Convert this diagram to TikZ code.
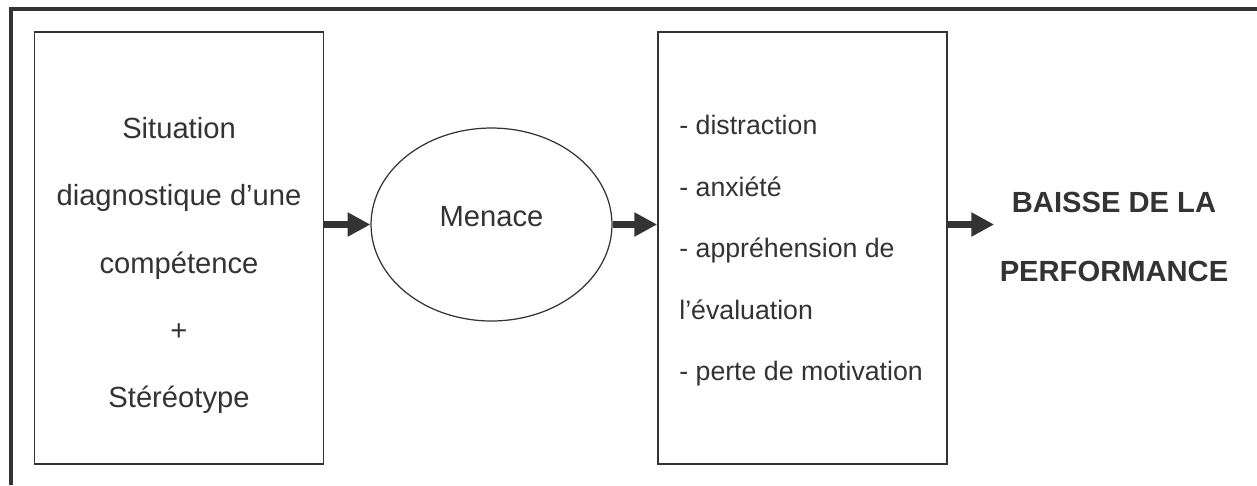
\documentclass[tikz,border=0pt]{standalone}
\usepackage{fontspec}
\setmainfont{Liberation Sans}
\usetikzlibrary{shapes.geometric,arrows.meta}

\begin{document}
\begin{tikzpicture}[x=0.02cm,y=-0.02cm,
    every node/.style={text=tab_gray},
    bloc/.style={draw=tab_gray, line width=1pt, minimum width=5.78cm, minimum height=8.64cm, inner sep=0pt},
    fleche/.style={draw=tab_gray, line width=4pt, -{Triangle[length=13pt,width=13pt]}},
]
    \definecolor{tab_gray}{HTML}{333333}
    %\draw[help lines] (0,0) grid (1257,485);
    \useasboundingbox (0,0) rectangle (1257,485);
    \draw[tab_gray, line width=2pt] (11,485) -- (11,9) -- (1257,9);

    \node[bloc] (situation) at (179,248) {};
    \node[bloc] (effets) at (802.5,248) {};
    \node[draw=tab_gray, line width=0.7pt, ellipse, minimum width=4.82cm, minimum height=3.86cm, inner sep=0pt] (menace) at (491.5,224.5) {};

    \node[align=center, inner sep=0pt, font=\fontsize{16.6}{38.3}\selectfont] (situation_txt) at (179,265.5) {
        Situation\\
        diagnostique d’une\\
        compétence\\
        +\\
        Stéréotype
    };
    \node[anchor=base, font=\fontsize{16.6}{20}\selectfont] (menace_txt) at (491.5,226) {Menace};
    \node[align=left, anchor=west, inner sep=0pt, font=\fontsize{15.2}{35}\selectfont] (effets_txt) at (679,251) {
        - distraction\\
        - anxiété\\
        - appréhension de\\
        l’évaluation\\
        - perte de motivation
    };
    \node[align=center, inner sep=3pt, font=\bfseries\fontsize{16.6}{39.3}\selectfont] (baisse) at (1114,237) {
        BAISSE DE LA\\
        PERFORMANCE
    };

    \draw[fleche] (situation.east |- menace.west) -- (menace.west);
    \draw[fleche] (menace.east) -- (effets.west |- menace.east);
    \draw[fleche] (effets.east |- menace.east) -- (baisse.west |- menace.east);
\end{tikzpicture}
\end{document}
